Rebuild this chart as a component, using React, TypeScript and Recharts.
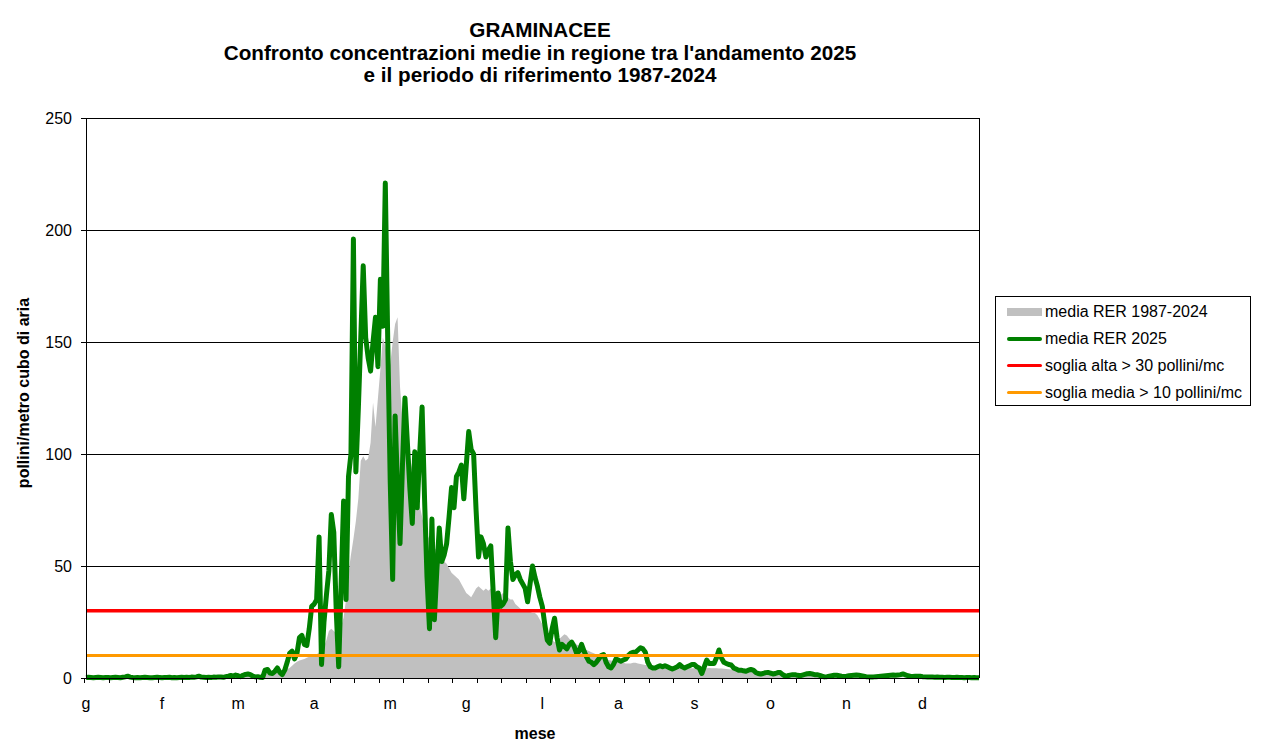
import React from 'react';
import {
  ComposedChart,
  Area,
  Line,
  XAxis,
  YAxis,
  CartesianGrid,
  ReferenceLine
} from 'recharts';

// month initials used as category labels (one every 31 days)
const monthLabels = ['g', 'f', 'm', 'a', 'm', 'g', 'l', 'a', 's', 'o', 'n', 'd'];

// daily mean concentration, reference period 1987-2024 (day 0 = 1 Jan)
const mediaRer19872024 = [
  0.1, 0.1, 0.2, 0.1, 0.1, 0.2, 0.1, 0.1, 0.1, 0.2,
  0.1, 0.1, 0.2, 0.1, 0.1, 0.1, 0.2, 0.2, 0.1, 0.1,
  0.1, 0.2, 0.1, 0.1, 0.1, 0.2, 0.1, 0.1, 0.2, 0.1,
  0.1, 0.1, 0.2, 0.1, 0.2, 0.2, 0.1, 0.2, 0.2, 0.2,
  0.2, 0.2, 0.3, 0.2, 0.2, 0.3, 0.3, 0.2, 0.3, 0.3,
  0.3, 0.4, 0.3, 0.4, 0.4, 0.3, 0.5, 0.5, 0.4, 0.6,
  0.6, 0.7, 0.6, 0.8, 0.8, 0.9, 1.0, 0.9, 1.1, 1.2,
  1.3, 1.5, 1.7, 1.9, 2.2, 2.4, 2.7, 3.0, 3.2, 3.4,
  3.5, 3.8, 4.0, 4.5, 5.5, 6.5, 7.2, 7.8, 8.2, 8.5,
  9.0, 9.5, 9.8, 10.2, 10.5, 11.5, 12, 14, 17, 21,
  22, 21, 20, 25, 23, 27, 35, 47, 55, 62,
  70, 80, 97, 99, 97, 98, 105, 123, 112, 125,
  138, 152, 148, 142, 140, 150, 158, 161, 130, 115,
  108, 103, 99, 93, 88, 82, 77, 72, 67, 64,
  62, 60, 58, 57, 56, 54, 52, 51, 49, 47,
  46, 45, 44, 42, 40, 38, 37, 36, 38, 40,
  41, 40, 39, 40, 39, 40, 39, 39, 36, 37,
  38, 37, 36, 35, 35, 33, 32, 31, 30, 30,
  30, 29.5, 29, 29, 28, 26, 24, 22, 21, 19,
  17, 16, 16.5, 17.5, 18.5, 19.5, 19, 17.5, 16.5, 16,
  15, 14.5, 14, 13.5, 12.5, 12, 11.5, 11, 10.5, 10,
  9, 8.8, 8.5, 8, 7.8, 7.5, 7.5, 7.2, 7, 6.8,
  6.5, 6.5, 6.5, 6.8, 6.8, 6.5, 6.2, 6, 5.8, 5.8,
  5.6, 5.5, 5.4, 5.3, 5.2, 5.1, 5, 5, 4.9, 4.8,
  4.7, 4.6, 4.6, 4.5, 4.5, 4.4, 4.4, 4.3, 4.3, 4.2,
  4.2, 4.2, 4.3, 4.4, 4.5, 4.4, 4.3, 4.3, 4.2, 4.2,
  4.1, 4.0, 3.9, 3.8, 3.7, 3.6, 3.6, 3.5, 3.5, 3.4,
  3.3, 3.2, 3.1, 3.0, 2.9, 2.8, 2.7, 2.6, 2.5, 2.4,
  2.3, 2.2, 2.1, 2.0, 1.9, 1.8, 1.7, 1.6, 1.5, 1.4,
  1.3, 1.2, 1.1, 1.0, 0.9, 0.9, 0.8, 0.8, 0.7, 0.7,
  0.6, 0.6, 0.5, 0.5, 0.5, 0.4, 0.4, 0.4, 0.4, 0.3,
  0.3, 0.3, 0.3, 0.3, 0.3, 0.2, 0.2, 0.2, 0.2, 0.2,
  0.2, 0.2, 0.2, 0.2, 0.2, 0.2, 0.2, 0.2, 0.1, 0.2,
  0.2, 0.1, 0.2, 0.1, 0.2, 0.1, 0.1, 0.2, 0.1, 0.1,
  0.1, 0.1, 0.1, 0.1, 0.1, 0.1, 0.1, 0.1, 0.1, 0.1,
  0.1, 0.1, 0.1, 0.1, 0.1, 0.1, 0.1, 0.1, 0.1, 0.1,
  0.1, 0.1, 0.1, 0.1, 0.1
];

// daily mean concentration 2025
const mediaRer2025 = [
  0.2, 0.3, 0.2, 0.1, 0.2, 0.3, 0.2, 0.1, 0.2, 0.2,
  0.1, 0.2, 0.3, 0.2, 0.1, 0.3, 0.5, 0.8, 0.4, 0.2,
  0.1, 0.2, 0.1, 0.2, 0.3, 0.2, 0.1, 0.1, 0.2, 0.3,
  0.2, 0.1, 0.2, 0.2, 0.3, 0.1, 0.2, 0.1, 0.2, 0.3,
  0.2, 0.3, 0.2, 0.4, 0.3, 0.5, 0.8, 0.4, 0.3, 0.2,
  0.3, 0.2, 0.4, 0.3, 0.5, 0.4, 0.3, 0.6, 0.8, 1.1,
  0.8, 1.3, 1.0, 0.6, 1.2, 1.6, 1.8, 1.5, 0.8, 0.5,
  0.6, 0.3, 0.2, 3.5, 3.8, 2.2, 2.0, 3.0, 4.5, 2.5,
  1.5, 3.5, 7, 11, 12, 8.5, 11, 18, 19, 15,
  14.5, 22, 32, 33, 35, 63, 6, 25, 37, 48,
  73, 65, 30, 5, 42, 79, 35, 90, 100, 196,
  92, 120, 152, 184, 152, 143, 137, 150, 161, 139,
  178, 157, 221, 150, 88, 44, 117, 85, 60, 95,
  125, 105, 85, 69, 101, 76, 100, 121, 80, 45,
  22, 71, 26, 48, 67, 52, 55, 60, 72, 85,
  76, 90, 92, 95, 80, 95, 110, 102, 100, 75,
  54, 63, 60, 54, 57, 59, 38, 18, 38, 32,
  33, 35, 67, 52, 44, 46, 47, 44, 42, 40,
  34, 42, 50, 45, 41, 36, 32, 24, 17, 15.5,
  22, 26.7, 18, 12.5, 15, 14, 13, 15, 16, 14,
  11, 12, 15, 12, 9.5, 7.5, 7, 6, 7, 8.5,
  10, 10.5, 7, 5, 4.5, 6, 8.5, 8, 7.5, 8,
  8.5, 10, 11, 11.5, 11.5, 12.5, 13.5, 13, 11.5, 7,
  5, 4.5, 4.5, 5, 5.5, 5, 5.5, 5, 4.5, 4,
  4.5, 5, 6, 5, 4.5, 5, 5.5, 6, 6, 5,
  4.5, 2, 5, 8, 6.5, 6.5, 6.5, 9, 12.5, 9,
  7, 6.5, 6, 5.8, 4.5, 4, 3.5, 3.5, 3.2, 3,
  3.5, 3.8, 3.5, 2.5, 2, 1.8, 2, 2.4, 2.5, 2.2,
  1.8, 2, 2.4, 2.4, 1.5, 0.8, 1, 1.3, 1.5, 1.5,
  1.2, 1, 1.3, 1.6, 1.9, 2, 1.8, 1.5, 1.5, 1.2,
  0.8, 0.5, 0.6, 0.8, 1, 1.2, 1.2, 1, 0.8, 0.7,
  0.8, 1, 1.1, 1.2, 1.3, 1.2, 1, 0.8, 0.6, 0.5,
  0.5, 0.5, 0.6, 0.7, 0.8, 0.9, 1, 1.1, 1.2, 1.3,
  1.2, 1.3, 1.5, 1.8, 1.4, 1, 0.8, 0.7, 0.8, 0.8,
  0.8, 0.6, 0.5, 0.4, 0.5, 0.4, 0.3, 0.4, 0.3, 0.3,
  0.2, 0.3, 0.3, 0.2, 0.2, 0.3, 0.2, 0.2, 0.1, 0.2,
  0.2, 0.1, 0.2, 0.1, 0.1
];

const sogliaAlta = 30;
const sogliaMedia = 10;
const yTicks = [0, 50, 100, 150, 200, 250];

const data = mediaRer2025.map((v, i) => ({
  day: i,
  media: mediaRer19872024[i],
  anno: v
}));

const FONT = '"Liberation Sans", Arial, sans-serif';
const W = 1268;
const H = 751;
// plot box, as in the original Excel chart
const PLOT = { left: 86, right: 979, top: 118, bottom: 678 };
const HALF_BAND = (PLOT.right - PLOT.left) / data.length / 2;

const legendItems = [
  { label: 'media RER 1987-2024', color: '#C0C0C0', kind: 'area' },
  { label: 'media RER 2025', color: '#008000', kind: 'line4' },
  { label: 'soglia alta > 30 pollini/mc', color: '#FF0000', kind: 'line2' },
  { label: 'soglia media > 10 pollini/mc', color: '#FF9900', kind: 'line2' }
];

// tick marks every 10 days, month letter every 31 days
const DayTick = (props: any) => {
  const { x, y, payload } = props;
  const d = Number(payload.value);
  return (
    <g>
      {d % 10 === 0 && (
        <line
          x1={x - HALF_BAND}
          x2={x - HALF_BAND}
          y1={y - 5}
          y2={y}
          stroke="#000"
          strokeWidth={1}
          shapeRendering="crispEdges"
        />
      )}
      {d % 31 === 0 && (
        <text x={x} y={y} dy={26} textAnchor="middle" fontSize={16} fontFamily={FONT} fill="#000">
          {monthLabels[d / 31]}
        </text>
      )}
    </g>
  );
};

const App: React.FC = () => {
  return (
    <div style={{ position: 'absolute', left: 0, top: 0, width: W, height: H, background: '#fff' }}>
      <ComposedChart
        width={W}
        height={H}
        data={data}
        margin={{ top: PLOT.top, right: W - PLOT.right - 1, bottom: H - PLOT.bottom - 30, left: 0 }}
      >
        <CartesianGrid
          yAxisId="left"
          vertical={false}
          stroke="#000"
          strokeWidth={1}
          strokeOpacity={1}
          shapeRendering="crispEdges"
        />
        <XAxis
          dataKey="day"
          type="category"
          height={30}
          interval={0}
          tickSize={5}
          tickMargin={0}
          tickLine={false}
          axisLine={{ stroke: '#000', strokeWidth: 1, shapeRendering: 'crispEdges' }}
          tick={DayTick}
        />
        <YAxis
          yAxisId="left"
          width={PLOT.left}
          domain={[0, 250]}
          ticks={yTicks}
          interval={0}
          tickSize={5}
          tickMargin={9}
          axisLine={{ stroke: '#000', shapeRendering: 'crispEdges' }}
          tickLine={{ stroke: '#000', shapeRendering: 'crispEdges' }}
          tick={{ fontSize: 16, fontFamily: FONT, fill: '#000' }}
        />
        <YAxis
          yAxisId="right"
          orientation="right"
          width={1}
          domain={[0, 250]}
          tick={false}
          tickLine={false}
          axisLine={{ stroke: '#000', shapeRendering: 'crispEdges' }}
        />
        <Area
          yAxisId="left"
          type="linear"
          dataKey="media"
          name="media RER 1987-2024"
          fill="#C0C0C0"
          fillOpacity={1}
          stroke="none"
          isAnimationActive={false}
        />
        <Line
          yAxisId="left"
          type="linear"
          dataKey="anno"
          name="media RER 2025"
          stroke="#008000"
          strokeWidth={5}
          strokeLinejoin="round"
          dot={false}
          activeDot={false}
          isAnimationActive={false}
        />
        <ReferenceLine yAxisId="left" y={sogliaAlta} stroke="#FF0000" strokeWidth={3.5} />
        <ReferenceLine yAxisId="left" y={sogliaMedia} stroke="#FF9900" strokeWidth={3} />
      </ComposedChart>

      {/* titles and axis names */}
      <svg width={W} height={H} style={{ position: 'absolute', left: 0, top: 0, pointerEvents: 'none' }}>
        <g fontFamily={FONT} fontWeight="bold" fill="#000" textAnchor="middle">
          <text x={540} y={37} fontSize={20.7}>GRAMINACEE</text>
          <text x={540} y={60} fontSize={20.7}>Confronto concentrazioni medie in regione tra l'andamento 2025</text>
          <text x={540} y={82} fontSize={20.7}>e il periodo di riferimento 1987-2024</text>
          <text x={535} y={739} fontSize={16}>mese</text>
          <text x={29} y={393} fontSize={16} transform="rotate(-90 29 393)">pollini/metro cubo di aria</text>
        </g>
      </svg>

      {/* legend */}
      <div
        style={{
          position: 'absolute',
          left: 995,
          top: 296,
          width: 256,
          height: 110,
          boxSizing: 'border-box',
          border: '1px solid #000',
          background: '#fff',
          paddingTop: 1,
          fontFamily: FONT,
          fontSize: 16,
          color: '#000'
        }}
      >
        {legendItems.map((item) => (
          <div key={item.label} style={{ display: 'flex', alignItems: 'center', height: 27, paddingLeft: 11 }}>
            <div style={{ width: 35, display: 'flex', alignItems: 'center' }}>
              <div
                style={{
                  width: 35,
                  height: item.kind === 'area' ? 8 : item.kind === 'line4' ? 4 : 3,
                  background: item.color,
                  borderRadius: item.kind === 'area' ? 0 : 2
                }}
              />
            </div>
            <span style={{ marginLeft: 3, whiteSpace: 'nowrap' }}>{item.label}</span>
          </div>
        ))}
      </div>
    </div>
  );
};

export default App;
